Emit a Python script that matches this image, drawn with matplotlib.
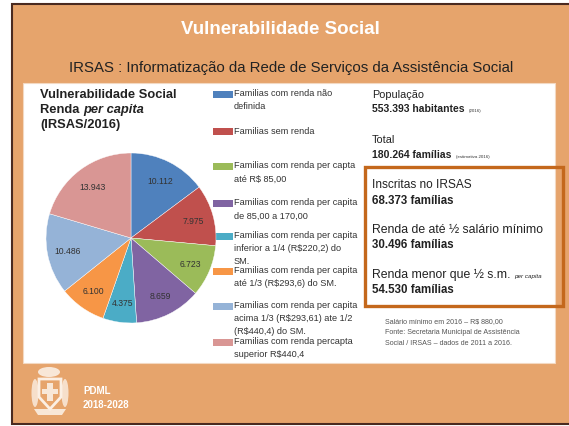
import matplotlib.pyplot as plt
from matplotlib.patches import Rectangle, Polygon, Ellipse

plt.rcParams['font.family'] = ['Liberation Sans', 'DejaVu Sans']

# pie data (IRSAS/2016)
valores = [10112, 7975, 6723, 8659, 4375, 6100, 10486, 13943]
cores = ['#4F81BD', '#C0504D', '#9BBB59', '#8064A2', '#4BACC6', '#F79646', '#95B3D7', '#D99694']
legendas = [
    "Familias com renda não\ndefinida",
    "Familias sem renda",
    "Familias com renda per capta\naté R$ 85,00",
    "Familias com renda per capita\nde 85,00 a 170,00",
    "Familias com renda per capita\ninferior a 1/4 (R$220,2) do\nSM.",
    "Familias com renda per capita\naté 1/3 (R$293,6) do SM.",
    "Familias com renda per capita\nacima 1/3 (R$293,61) ate 1/2\n(R$440,4) do SM.",
    "Familias com renda percapta\nsuperior R$440,4",
]
legenda_y = [95, 132, 167, 204, 237, 272, 307, 343]

populacao = "553.393"
total_familias = "180.264"
inscritas = "68.373"
ate_meio_sm = "30.496"
menor_meio_sm = "54.530"

notas = ["Salário mínimo em 2016 – R$ 880,00",
         "Fonte: Secretaria Municipal de Assistência",
         "Social / IRSAS – dados de 2011 a 2016."]


def esc(s):
    return s.replace("$", r"\$")


def fmt(v):
    return f"{v:,}".replace(",", ".")


W, H = 569, 427
fig = plt.figure(figsize=(W / 100, H / 100), dpi=100)
fig.patch.set_facecolor('white')

bg = fig.add_axes([0, 0, 1, 1])
bg.set_xlim(0, W)
bg.set_ylim(H, 0)
bg.axis('off')

# slide background and white panel
bg.add_patch(Rectangle((12, 5), 560, 420, facecolor='#E6A46C', edgecolor='#4A2A20', lw=1.5))
bg.add_patch(Rectangle((23, 84), 532, 280, facecolor='white', edgecolor='#F3D9C2', lw=0.8))

bg.text(280, 30, "Vulnerabilidade Social", color='white', fontsize=13.5, fontweight='bold',
        ha='center', va='center')
bg.text(291, 68, "IRSAS : Informatização da Rede de Serviços da Assistência Social",
        color='#222222', fontsize=10.8, ha='center', va='center')

# pie title
bg.text(40, 95, "Vulnerabilidade Social", fontsize=9.3, fontweight='bold', color='#222222', va='center')
t = bg.text(40, 110, "Renda ", fontsize=9.3, fontweight='bold', color='#222222', va='center')
bg.annotate("per capita", xy=(1, 0), xycoords=t, xytext=(0, 0), textcoords='offset points',
            fontsize=9.3, fontweight='bold', style='italic', color='#222222', va='bottom')
bg.text(40, 125, "(IRSAS/2016)", fontsize=9.3, fontweight='bold', color='#222222', va='center')

# pie
cx, cy, r = 131, 239, 85
ax = fig.add_axes([(cx - r) / W, (H - cy - r) / H, 2 * r / W, 2 * r / H])
total = sum(valores)
ax.pie(valores, colors=cores, startangle=90, counterclock=False, radius=1,
       autopct=lambda p: fmt(round(p * total / 100)), pctdistance=0.76,
       textprops=dict(fontsize=6.2, color='#333333'),
       wedgeprops=dict(edgecolor='white', linewidth=0.3))
ax.set_xlim(-1, 1)
ax.set_ylim(-1, 1)
ax.set_aspect('equal')
ax.axis('off')

# legend
for cor, lab, y in zip(cores, legendas, legenda_y):
    bg.add_patch(Rectangle((213, y - 3.5), 20, 7, facecolor=cor, edgecolor='none'))
    bg.text(234, y - 5.5, esc(lab), fontsize=6.6, color='#333333', va='top', ha='left',
            linespacing=1.55)

# right-hand numbers
bg.text(372, 95, "População", fontsize=7.8, color='#222222', va='center')
t = bg.text(372, 109, populacao + " habitantes", fontsize=7.5, fontweight='bold', color='#222222', va='center')
bg.annotate("(2016)", xy=(1, 0), xycoords=t, xytext=(3, 1), textcoords='offset points',
            fontsize=3.2, color='#333333', va='bottom')
bg.text(372, 140, "Total", fontsize=7.8, color='#222222', va='center')
t = bg.text(372, 155, total_familias + " famílias", fontsize=7.5, fontweight='bold', color='#222222', va='center')
bg.annotate("(estimativa 2016)", xy=(1, 0), xycoords=t, xytext=(3, 1), textcoords='offset points',
            fontsize=3.2, color='#333333', va='bottom')

# highlighted box
bg.add_patch(Rectangle((365, 168), 198, 139, facecolor='none', edgecolor='#C4681C', lw=2.4))
bg.text(372, 185, "Inscritas no IRSAS", fontsize=8.6, color='#222222', va='center')
bg.text(372, 201, inscritas + " famílias", fontsize=8.3, fontweight='bold', color='#222222', va='center')
bg.text(372, 230, "Renda de até ½ salário mínimo", fontsize=8.8, color='#222222', va='center')
bg.text(372, 245, ate_meio_sm + " famílias", fontsize=8.3, fontweight='bold', color='#222222', va='center')
t = bg.text(372, 275, "Renda menor que ½ s.m. ", fontsize=8.8, color='#222222', va='center')
bg.annotate("per capita", xy=(1, 0), xycoords=t, xytext=(0, 1.5), textcoords='offset points',
            fontsize=4.5, style='italic', color='#222222', va='bottom')
bg.text(372, 290, menor_meio_sm + " famílias", fontsize=8.3, fontweight='bold', color='#222222', va='center')

for i, nota in enumerate(notas):
    bg.text(385, 322 + i * 11, esc(nota), fontsize=5.1, color='#555555', va='center')

# footer logo (rough crest)
branco = '#FBEFE4'
bg.add_patch(Ellipse((49, 373), 22, 10, facecolor=branco, edgecolor='none', alpha=0.9))
bg.add_patch(Polygon([(39, 380), (61, 380), (61, 398), (50, 410), (39, 398)], closed=True,
                     facecolor='none', edgecolor=branco, lw=2))
bg.add_patch(Polygon([(47, 384), (53, 384), (53, 390), (58, 390), (58, 395), (53, 395),
                      (53, 402), (47, 402), (47, 395), (42, 395), (42, 390), (47, 390)],
                     closed=True, facecolor=branco, edgecolor='none', alpha=0.9))
bg.add_patch(Ellipse((35, 394), 7, 28, facecolor=branco, edgecolor='none', alpha=0.8))
bg.add_patch(Ellipse((65, 394), 7, 28, facecolor=branco, edgecolor='none', alpha=0.8))
bg.add_patch(Polygon([(34, 410), (66, 410), (62, 416), (38, 416)], closed=True,
                     facecolor=branco, edgecolor='none', alpha=0.9))
bg.text(83, 391, "PDML", fontsize=7, fontweight='bold', color='white', va='center')
bg.text(83, 405, "2018-2028", fontsize=7, fontweight='bold', color='white', va='center')

fig.savefig("out.png", dpi=100)
